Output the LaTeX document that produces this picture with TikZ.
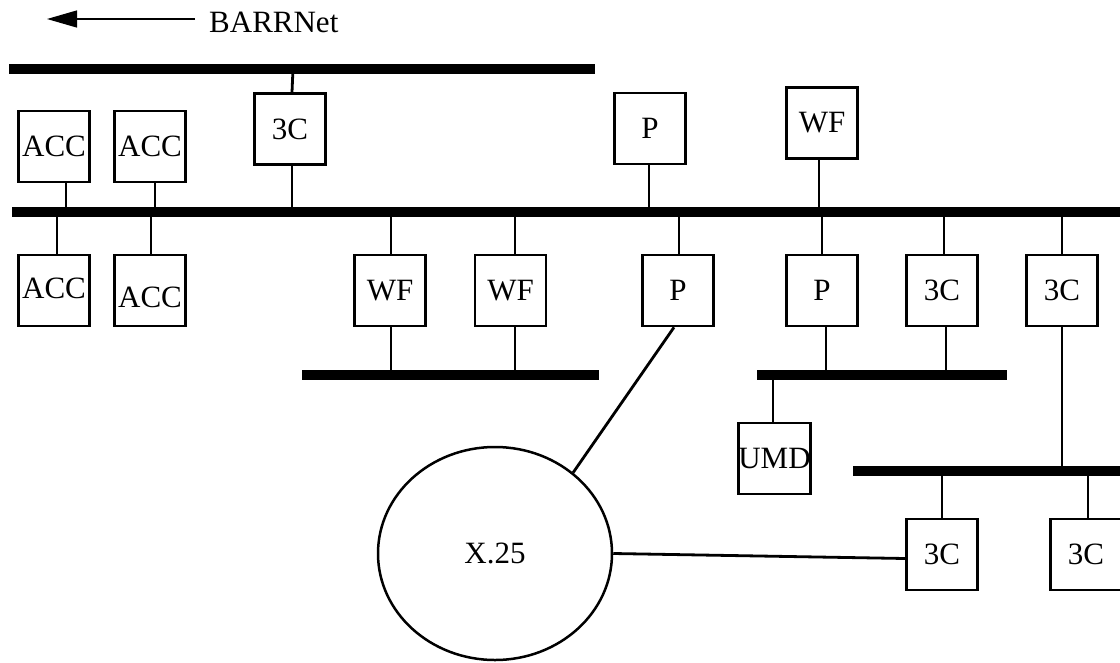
\documentclass[tikz,border=0pt]{standalone}
\usepackage{fontspec}
\setmainfont{Liberation Serif}
\usetikzlibrary{arrows.meta,shapes.geometric}

\begin{document}
\begin{tikzpicture}[x=1pt, y=-1pt, >=Triangle,
    label font/.style={font=\fontsize{31}{31}\selectfont},
    box/.style={draw, line width=2.6pt, minimum size=71pt, inner sep=0pt, label font},
    bus/.style={fill, inner sep=0pt, minimum height=9.5pt},
    link/.style={line width=2.8pt}]

    \useasboundingbox (0,0) rectangle (1120,662);

    % BARRNet pointer
    \coordinate (tip) at (47,19);
    \node[anchor=west, inner xsep=14pt, inner ysep=0pt, label font] (barr) at (195,22) {BARRNet};
    \draw[line width=1.3pt, -{Triangle[length=30pt,width=17pt]}] (tip -| barr.west) -- (tip);

    % buses
    \node[bus, minimum width=586pt] (barrbus) at (302,69) {};
    \node[bus, minimum width=1113pt] (mainbus) at (568.5,212) {};
    \node[bus, minimum width=297pt] (wfbus) at (450.5,375) {};
    \node[bus, minimum width=250pt] (pbus) at (882,375) {};
    \node[bus, minimum width=272pt] (lowbus) at (989,471) {};

    % hosts above the main bus
    \node[box] (acc1) at (54,146.5) {ACC};
    \node[box] (acc2) at (150,146.5) {ACC};
    \node[box] (c3a) at (290,129) {3C};
    \node[box] (pa) at (650,128.5) {P};
    \node[box] (wfa) at (822,123) {WF};

    % hosts below the main bus
    \node[box] (acc3) at (54,290.5) {\raisebox{3pt}[22pt][0pt]{ACC}};
    \node[box] (acc4) at (150,290.5) {\raisebox{-6pt}[22pt][0pt]{ACC}};
    \node[box] (wfb) at (390,290.5) {WF};
    \node[box] (wfc) at (510.5,290.5) {WF};
    \node[box] (pb) at (678,290.5) {P};
    \node[box] (pc) at (822,290.5) {P};
    \node[box] (c3b) at (942,290.5) {3C};
    \node[box] (c3c) at (1062,290.5) {3C};

    \node[box] (umd) at (774.5,458.5) {UMD};
    \node[box] (c3d) at (942,554.5) {3C};
    \node[box] (c3e) at (1086,554.5) {3C};

    \node[draw, ellipse, line width=2.5pt, minimum width=234pt, minimum height=213pt, inner sep=0pt, label font] (x25) at (495,553.5) {X.25};

    % drops
    \draw[link] ([xshift=2pt]c3a.north) -- ([xshift=3pt]c3a.north |- barrbus);
    \draw[link] ([xshift=2pt]c3a.south) -- ([xshift=2pt]c3a.south |- mainbus);
    \draw[link] ([xshift=12pt]acc1.south) -- ([xshift=12pt]acc1.south |- mainbus);
    \draw[link] ([xshift=5pt]acc2.south) -- ([xshift=5pt]acc2.south |- mainbus);
    \draw[link] ([xshift=-1pt]pa.south) -- ([xshift=-1pt]pa.south |- mainbus);
    \draw[link] ([xshift=-3pt]wfa.south) -- ([xshift=-3pt]wfa.south |- mainbus);

    \draw[link] ([xshift=3pt]acc3.north) -- ([xshift=3pt]acc3.north |- mainbus);
    \draw[link] ([xshift=1pt]acc4.north) -- ([xshift=1pt]acc4.north |- mainbus);
    \draw[link] ([xshift=1pt]wfb.north) -- ([xshift=1pt]wfb.north |- mainbus);
    \draw[link] ([xshift=1pt]wfb.south) -- ([xshift=1pt]wfb.south |- wfbus);
    \draw[link] ([xshift=4.5pt]wfc.north) -- ([xshift=4.5pt]wfc.north |- mainbus);
    \draw[link] ([xshift=4.5pt]wfc.south) -- ([xshift=4.5pt]wfc.south |- wfbus);
    \draw[link] ([xshift=1pt]pb.north) -- ([xshift=1pt]pb.north |- mainbus);
    \draw[link] (pc.north) -- (pc.north |- mainbus);
    \draw[link] ([xshift=4pt]pc.south) -- ([xshift=4pt]pc.south |- pbus);
    \draw[link] ([xshift=2pt]c3b.north) -- ([xshift=2pt]c3b.north |- mainbus);
    \draw[link] ([xshift=4pt]c3b.south) -- ([xshift=4pt]c3b.south |- pbus);
    \draw[link] (c3c.north) -- (c3c.north |- mainbus);
    \draw[link] (c3c.south) -- (c3c.south |- lowbus);

    \draw[link] ([xshift=-1.5pt]umd.north) -- ([xshift=-1.5pt]umd.north |- pbus);
    \draw[link] (c3d.north) -- (c3d.north |- lowbus);
    \draw[link] ([xshift=2pt]c3e.north) -- ([xshift=2pt]c3e.north |- lowbus);

    % X.25 links
    \draw[link] ([xshift=-4pt]pb.south) -- (x25.46);
    \draw[link] (x25.east) -- ([yshift=-4pt]c3d.west);

\end{tikzpicture}
\end{document}
